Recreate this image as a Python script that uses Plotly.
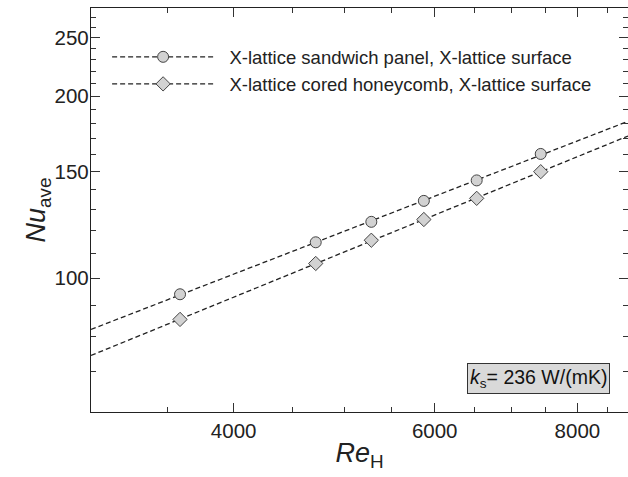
import plotly.graph_objects as go
import numpy as np

# Re_H values
re_panel = [3590, 4720, 5280, 5870, 6530, 7430]
nu_panel = [94.0, 114.6, 123.9, 134.2, 145.1, 160.5]

re_honey = [3590, 4720, 5280, 5870, 6530, 7430]
nu_honey = [85.4, 105.7, 115.5, 125.0, 135.5, 150.0]

names = ['X-lattice sandwich panel, X-lattice surface',
         'X-lattice cored honeycomb, X-lattice surface']

y_ticks = [100, 150, 200, 250]
y_minor = [70, 80, 90, 110, 120, 130, 140, 160, 170, 180, 190,
           210, 220, 230, 240, 260, 270]
x_ticks = [4000, 6000, 8000]
x_minor = [3500, 4500, 5000, 5500, 6500, 7000, 7500, 8500]

x_lo, x_hi = 3000, 8860
y_lo, y_hi = 60, 280

font = 'Arial, Liberation Sans, sans-serif'


def power_fit(x, y):
    # straight line in log-log space through the points
    b, a = np.polyfit(np.log10(x), np.log10(y), 1)
    xs = np.array([x_lo, x_hi])
    return xs, 10 ** (a + b * np.log10(xs))


fig = go.Figure()

for xs, ys, sym, name in [(re_panel, nu_panel, 'circle', names[0]),
                          (re_honey, nu_honey, 'diamond', names[1])]:
    fx, fy = power_fit(xs, ys)
    fig.add_trace(go.Scatter(
        x=fx, y=fy, mode='lines', showlegend=False,
        line=dict(color='#222', width=1.3, dash='5px,3px'),
        hoverinfo='skip'))
    fig.add_trace(go.Scatter(
        x=xs, y=ys, mode='markers', showlegend=False,
        marker=dict(symbol=sym, size=11, color='#d2d2d2',
                    line=dict(color='#444', width=1))))
    # legend entry: dashed line with the marker in the middle
    fig.add_trace(go.Scatter(
        x=[None], y=[None], mode='lines+markers',
        name='&nbsp;&nbsp;' + name,
        line=dict(color='#222', width=1.3, dash='5px,3px'),
        marker=dict(symbol=sym, size=11, color='#d2d2d2',
                    line=dict(color='#444', width=1))))

axis_common = dict(
    type='log', showline=True, linecolor='#222', linewidth=1.3,
    mirror='ticks', ticks='inside', ticklen=9, tickwidth=1.2,
    tickcolor='#333', showgrid=False, zeroline=False, automargin=False,
    tickfont=dict(family=font, size=20.5, color='#222'),
)

fig.update_xaxes(
    range=[np.log10(x_lo), np.log10(x_hi)],
    tickmode='array', tickvals=x_ticks,
    ticktext=[str(v) for v in x_ticks],
    minor=dict(tickmode='array', tickvals=x_minor, ticklen=5,
               tickwidth=1, tickcolor='#333', ticks='inside'),
    title=dict(text='<i>Re</i><sub>H</sub>', standoff=2,
               font=dict(family=font, size=27, color='#222')),
    **axis_common)

fig.update_yaxes(
    range=[np.log10(y_lo), np.log10(y_hi)],
    tickmode='array', tickvals=y_ticks,
    ticktext=[str(v) for v in y_ticks],
    ticklabelstandoff=-3,
    minor=dict(tickmode='array', tickvals=y_minor, ticklen=5,
               tickwidth=1, tickcolor='#333', ticks='inside'),
    title=dict(text='<i>Nu</i><sub>ave</sub>', standoff=0,
               font=dict(family=font, size=27, color='#222')),
    **axis_common)

fig.add_annotation(
    x=0.834, y=0.084, xref='paper', yref='paper',
    xanchor='center', yanchor='middle',
    text='<i>k</i><sub>s</sub>= 236 W/(mK)', showarrow=False,
    font=dict(family=font, size=19.5, color='#111'),
    bgcolor='#d9d9d9', bordercolor='#333', borderwidth=1, borderpad=2)

fig.update_layout(
    width=628, height=477,
    margin=dict(l=91, r=0, t=8, b=65),
    paper_bgcolor='white', plot_bgcolor='white',
    legend=dict(x=0.03, y=0.925, xanchor='left', yanchor='top',
                bgcolor='rgba(0,0,0,0)', itemwidth=102,
                font=dict(family=font, size=18.5, color='#222'),
                tracegroupgap=0),
    showlegend=True,
)

# page body has a default 8px margin; drop it so the figure fills the window
fig.write_html('out.html',
               config={'displayModeBar': False},
               post_script="document.body.style.margin='0';")
